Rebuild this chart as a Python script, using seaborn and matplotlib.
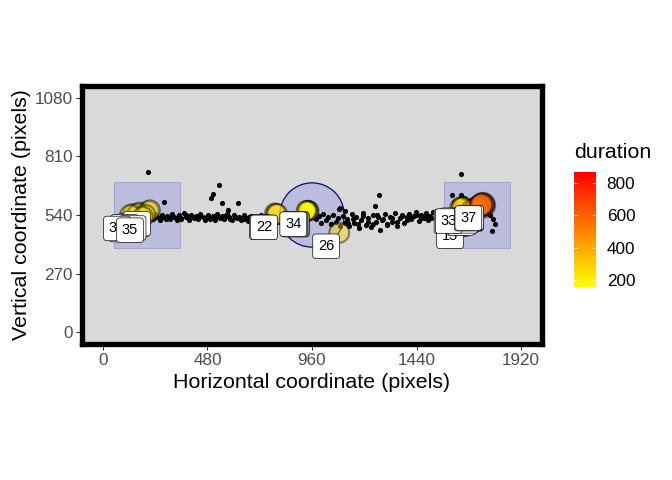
import numpy as np
import pandas as pd
import matplotlib
matplotlib.use("Agg")
import matplotlib.pyplot as plt
import seaborn as sns
from matplotlib.colors import LinearSegmentedColormap, Normalize
from matplotlib.cm import ScalarMappable
from matplotlib.patches import Rectangle, Circle

# ---------------- data ----------------
x_ticks = [0, 480, 960, 1440, 1920]
y_ticks = [0, 270, 540, 810, 1080]

# raw gaze samples
gaze_x = [100, 118, 135, 205, 216, 228, 240, 250, 262, 272, 284, 294, 306, 316, 328, 338, 350, 360, 372, 382,
          394, 404, 416, 426, 438, 448, 460, 470, 482, 492, 504, 514, 526, 536, 548, 558, 570, 580, 592, 602,
          614, 624, 636, 646, 658, 668, 680, 690, 702, 712, 724, 734, 746, 756, 768, 778, 790, 800,
          812, 830, 848, 866, 884, 902, 920, 938, 956,
          968, 978, 990, 1000, 1012, 1022, 1034, 1046, 1056, 1068, 1078, 1090, 1102, 1112,
          1120, 1130, 1142, 1152, 1164, 1174, 1186, 1196, 1208, 1218, 1230, 1240, 1252, 1262, 1274, 1284,
          1296, 1306, 1318, 1328, 1340, 1350, 1362, 1372, 1384, 1394,
          1406, 1416, 1428, 1438, 1450, 1460, 1472, 1482, 1494, 1504, 1516, 1526, 1538, 1548, 1560, 1570,
          1582, 1592, 1610, 1625, 1660, 1700, 1760, 1775, 1790, 1800,
          207, 280, 496, 505, 533, 547, 620, 574, 1268, 1249, 1644, 1603, 1644, 1745, 1787, 1089, 1112, 1047, 1084,
          222, 245, 268, 290, 312, 335, 358, 380, 402, 425, 448, 470, 492, 515, 538, 560, 582, 605, 628, 650,
          672, 695, 718, 740, 762, 785, 1125, 1148, 1170, 1192, 1215, 1238, 1260, 1282, 1305, 1328, 1350, 1372,
          1395, 1418, 1440, 1462, 1485, 1508, 1530, 1552, 1575, 1598]
gaze_y = [530, 545, 520, 540, 538, 522, 545, 530, 518, 541, 527, 535, 520, 544, 531, 516, 539, 525, 548, 533,
          519, 542, 528, 536, 521, 546, 530, 517, 540, 526, 534, 518, 543, 529, 537, 522, 545, 531, 515, 539,
          524, 533, 519, 541, 527, 512, 536, 522, 530, 515, 538, 520, 527, 510, 533, 518, 524, 509,
          520, 508, 530, 515, 525, 505, 535, 518, 545,
          548, 520, 535, 505, 545, 515, 530, 498, 540, 510, 525, 488, 535, 505,
          520, 490, 545, 505, 530, 478, 515, 550, 495, 525, 485, 540, 510, 530, 470, 520,
          545, 498, 532, 508, 550, 488, 525, 540, 502, 530,
          545, 520, 535, 552, 512, 540, 528, 548, 518, 537, 556, 524, 545, 530, 550, 520,
          540, 528, 600, 520, 620, 600, 560, 540, 520, 500,
          736, 602, 616, 639, 676, 597, 597, 565, 630, 583, 727, 630, 630, 625, 468, 574, 560, 500, 569,
          528, 535, 530, 522, 533, 528, 520, 538, 530, 525, 535, 528, 522, 530, 526, 536, 520, 530, 528, 522,
          530, 518, 525, 515, 522, 512, 505, 520, 500, 535, 510, 498, 540, 515, 492, 525, 510, 535,
          518, 530, 540, 525, 535, 528, 545, 532, 538, 530]

# fixations
fix_id = list(range(1, 38))
fix_x = [138, 790, 1655, 170, 1700, 942, 1650, 184, 1690, 795, 1640, 210, 1725, 940, 1654, 150, 946,
         944, 1695, 216, 1712, 800, 1745, 160, 1705, 1085, 1742, 196, 1720, 938, 125, 1746, 1648, 934,
         184, 1735, 1738]
fix_y = [545, 548, 575, 552, 560, 560, 578, 540, 562, 545, 572, 558, 578, 562, 504, 535, 558,
         560, 566, 562, 570, 545, 584, 548, 565, 458, 586, 542, 575, 558, 540, 590, 574, 560,
         532, 585, 588]
fix_dur = [240, 250, 280, 220, 300, 175, 260, 210, 320, 260, 290, 250, 400, 165, 250, 230, 170,
           185, 300, 260, 360, 260, 860, 220, 320, 280, 560, 210, 480, 160, 250, 600, 280, 180,
           230, 520, 580]

# areas of interest
rect_x0 = [50, 1566]
rect_x1 = [354, 1870]
rect_y0 = [389, 389]
rect_y1 = [690, 690]
circ_x = [960]
circ_y = [540]
circ_r = [148]

dur_lo, dur_hi = 157, 868
cbar_ticks = [200, 400, 600, 800]

# ---------------- plot ----------------
W, H = 672, 480
fig = plt.figure(figsize=(W / 96, H / 96), dpi=96)
plt.rcParams['font.family'] = ['Liberation Sans', 'DejaVu Sans']

ax = fig.add_axes([82 / W, 1 - 344 / H, (542 - 82) / W, (344 - 86) / H])
ax.set_facecolor('#D9D9D9')

for x0, x1, y0, y1 in zip(rect_x0, rect_x1, rect_y0, rect_y1):
    ax.add_patch(Rectangle((x0, y0), x1 - x0, y1 - y0, facecolor=(0, 0, 1, 0.13),
                           edgecolor=(0.3, 0.3, 0.8, 0.3), lw=0.8, zorder=1))
for cx, cy, r in zip(circ_x, circ_y, circ_r):
    ax.add_patch(Circle((cx, cy), r, facecolor=(0, 0, 1, 0.13), edgecolor='#000080',
                        lw=0.9, zorder=1))

gaze = pd.DataFrame({'x': gaze_x, 'y': gaze_y})
sns.scatterplot(data=gaze, x='x', y='y', color='black', s=15, linewidth=0, ax=ax, zorder=3)

cmap = LinearSegmentedColormap.from_list('yr', ['#FFFF00', '#FF0000'])
norm = Normalize(dur_lo, dur_hi)
fix = pd.DataFrame({'x': fix_x, 'y': fix_y, 'duration': fix_dur, 'id': fix_id})
sns.scatterplot(data=fix, x='x', y='y', hue='duration', palette=cmap, hue_norm=norm,
                size='duration', sizes=(200, 330), size_norm=(dur_lo, dur_hi),
                alpha=0.42, edgecolor='black', linewidth=1.6, legend=False, ax=ax, zorder=4)

for _, row in fix.iterrows():
    ax.text(row['x'] - 60, row['y'] - 62, str(row['id']), fontsize=11, ha='center', va='center',
            color='black', zorder=5,
            bbox=dict(boxstyle='round,pad=0.36,rounding_size=0.22', fc='white', ec='black', lw=0.5))

ax.set_xlim(-96, 2016)
ax.set_ylim(-54, 1134)
ax.set_xticks(x_ticks)
ax.set_yticks(y_ticks)
ax.set_xticklabels([str(v) for v in x_ticks])
ax.set_yticklabels([str(v) for v in y_ticks])
ax.tick_params(length=4.8, width=0.8, color='#333333', labelcolor='#4D4D4D', labelsize=12.8, pad=2)
for s in ax.spines.values():
    s.set_linewidth(4)
    s.set_color('black')
ax.set_xlabel('Horizontal coordinate (pixels)', fontsize=16, labelpad=4)
ax.set_ylabel('Vertical coordinate (pixels)', fontsize=16, labelpad=3)

# colourbar legend
cax = fig.add_axes([574 / W, 1 - 287 / H, 22 / W, 115 / H])
cb = fig.colorbar(ScalarMappable(norm=norm, cmap=cmap), cax=cax)
cb.outline.set_visible(False)
cb.set_ticks(cbar_ticks)
cb.ax.tick_params(length=0, labelsize=12.8, labelcolor='black', pad=8)
for t in cbar_ticks:
    cax.plot([0, 0.2], [t, t], color='white', lw=0.6, alpha=0.7)
    cax.plot([0.8, 1], [t, t], color='white', lw=0.6, alpha=0.7)
fig.text(574 / W, 1 - 153 / H, 'duration', fontsize=16, ha='left', va='center')

fig.savefig('out.png', dpi=96)
